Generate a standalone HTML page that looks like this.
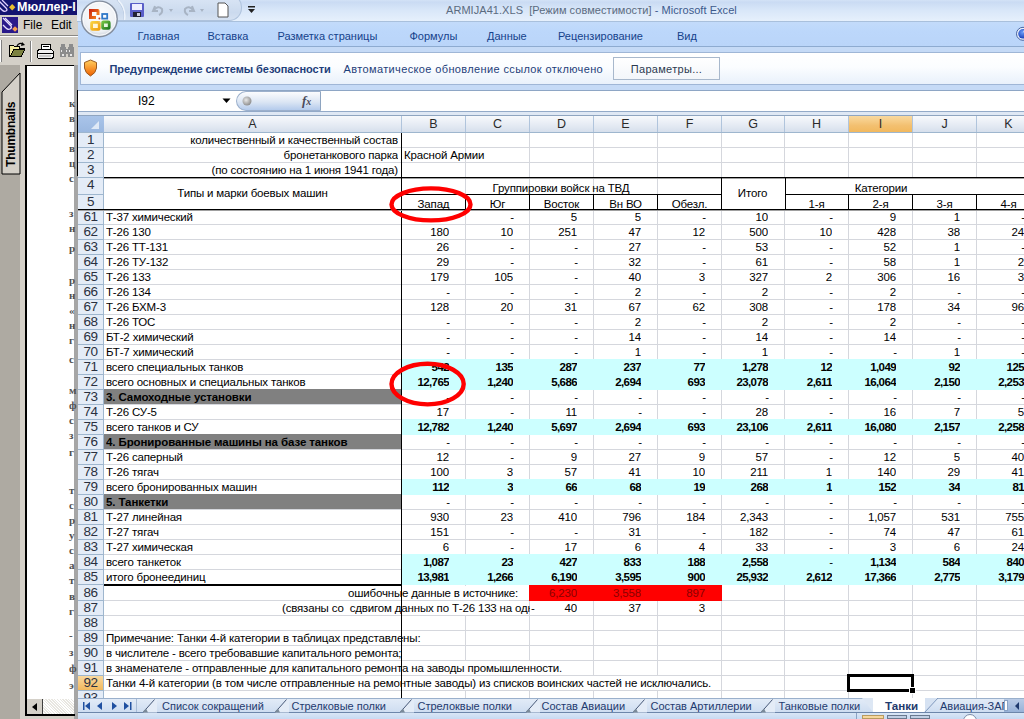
<!DOCTYPE html><html><head><meta charset="utf-8"><style>

*{margin:0;padding:0;box-sizing:border-box}
html,body{width:1024px;height:719px;overflow:hidden;background:#fff;font-family:"Liberation Sans",sans-serif}
.a{position:absolute}
.t{position:absolute;white-space:pre;overflow:hidden;font-size:11.5px;line-height:15px;letter-spacing:-0.17px;color:#000}
.t.b{letter-spacing:-0.1px}
.t.bn{font-weight:bold;letter-spacing:-0.6px}
.r{text-align:right}
.c{text-align:center}
.b{font-weight:bold}
.ui{position:absolute;white-space:pre;font-size:11px;line-height:13px}

</style></head><body>
<div class="a" style="left:0;top:0;width:78px;height:719px;background:#d4d0c8;overflow:hidden">
<div class="a" style="left:0;top:0;width:78px;height:15px;background:#141470"></div>
<div class="a" style="left:17px;top:0;font:bold 12.5px/15px 'Liberation Sans',sans-serif;color:#fff;white-space:pre;letter-spacing:0px">Мюллер-I</div>
<svg class="a" style="left:0;top:0" width="16" height="15"><path d="M-1 1 L6 8 Q8 10 6 11 Q4 12 2 10 L-1 7" stroke="#e0d0ff" stroke-width="1.3" fill="none"/><path d="M2 0 L8 6" stroke="#e0d0ff" stroke-width="1.3"/><rect x="10" y="5" width="4.5" height="4.5" transform="rotate(45 12.2 7.2)" fill="#e8c030"/></svg>
<div class="a" style="left:2px;top:17px;width:16px;height:16px;background:#2a1a8a"></div>
<svg class="a" style="left:2px;top:17px" width="16" height="16"><path d="M1 1 L9 9 Q10 11 8 12 Q6 13 4 11 L1 8" stroke="#e8e0ff" stroke-width="1.3" fill="none"/><path d="M3 1 L10 8" stroke="#e8e0ff" stroke-width="1.3"/><rect x="11" y="10" width="4" height="4" transform="rotate(45 13 12)" fill="#f8a050"/></svg>
<div class="ui" style="left:23px;top:18px;font-size:12px;line-height:15px;color:#000">File</div>
<div class="ui" style="left:51px;top:18px;font-size:12px;line-height:15px;color:#000">Edit</div>
<div class="a" style="left:0;top:35px;width:78px;height:1px;background:#8a8884"></div>
<div class="a" style="left:0;top:36px;width:78px;height:1px;background:#fff"></div>
<div class="a" style="left:0;top:40px;width:2px;height:22px;background:#fff;border-right:1px solid #808080"></div>
<svg class="a" style="left:0;top:30px" width="78" height="36" shape-rendering="crispEdges"><path d="M9.5 15.5 L13.5 15.5 L14.5 16.5 L19.5 16.5 L19.5 18.5 L24.5 18.5 L21.5 26.5 L9.5 26.5 Z" fill="#f4eca0" stroke="#000"/><path d="M10.5 26.5 L13.5 19.5 L24.5 19.5 L21.5 26.5 Z" fill="#7c8240" stroke="#000"/><path d="M17 16 Q19 12 23 14" stroke="#000" stroke-width="1.2" fill="none" shape-rendering="auto"/><path d="M22 12 L25 15 L21 16 Z" fill="#000" shape-rendering="auto"/><rect x="30" y="11" width="1" height="21" fill="#808080"/><rect x="31" y="11" width="1" height="21" fill="#fff"/><path d="M41.5 14.5 L50.5 14.5 L50.5 19.5 L41.5 19.5 Z" fill="#fff" stroke="#000"/><rect x="43" y="16" width="6" height="1" fill="#000"/><path d="M38.5 19.5 L51.5 19.5 L53.5 21.5 L53.5 27.5 L51.5 28.5 L38.5 28.5 L37.5 27.5 L37.5 21.5 Z" fill="#f0f0f0" stroke="#000"/><rect x="38" y="23" width="15" height="1" fill="#000"/><rect x="39" y="25" width="12" height="2" fill="#c8c8c8"/><g fill="#8c8c8c"><rect x="61" y="14" width="4" height="3"/><rect x="69" y="14" width="4" height="3"/><rect x="60" y="17" width="6" height="10"/><rect x="68" y="17" width="6" height="10"/><rect x="65" y="19" width="4" height="5"/></g><g fill="#e8e8e8"><rect x="61" y="20" width="1" height="2"/><rect x="69" y="20" width="1" height="2"/><rect x="62" y="24" width="2" height="2"/><rect x="70" y="24" width="2" height="2"/><rect x="66" y="20" width="1" height="2"/></g></svg>
<div class="a" style="left:0;top:65px;width:20px;height:654px;background:#aeaaa2"></div>
<svg class="a" style="left:0;top:65px" width="22" height="112"><path d="M2 27 L20 8 L20 109 L2 109 Z" fill="#d4d0c8" stroke="#000" stroke-width="1"/></svg>
<div class="a" style="left:3px;top:93px;width:16px;height:74px;overflow:hidden"><div style="position:absolute;left:0;top:74px;transform-origin:0 0;transform:rotate(-90deg);font:bold 12px/16px 'Liberation Sans',sans-serif;color:#000;white-space:pre;letter-spacing:-0.2px">Thumbnails</div></div>
<div class="a" style="left:25px;top:65px;width:2px;height:650px;background:#000"></div>
<div class="a" style="left:27px;top:66px;width:47px;height:633px;background:#fff"></div>
<div class="a" style="left:27px;top:65px;width:47px;height:1px;background:#000"></div>
<div class="a" style="left:74px;top:65px;width:4px;height:654px;background:#a6a6a6"></div>
<div class="a" style="left:69px;top:96px;font:bold 11px/14px 'Liberation Serif',serif;color:#505050;white-space:pre">к</div>
<div class="a" style="left:69px;top:111px;font:bold 11px/14px 'Liberation Serif',serif;color:#505050;white-space:pre">в</div>
<div class="a" style="left:69px;top:126px;font:bold 11px/14px 'Liberation Serif',serif;color:#505050;white-space:pre">н</div>
<div class="a" style="left:69px;top:141px;font:bold 11px/14px 'Liberation Serif',serif;color:#505050;white-space:pre">в</div>
<div class="a" style="left:69px;top:156px;font:bold 11px/14px 'Liberation Serif',serif;color:#505050;white-space:pre">ц</div>
<div class="a" style="left:69px;top:171px;font:bold 11px/14px 'Liberation Serif',serif;color:#505050;white-space:pre">с</div>
<div class="a" style="left:69px;top:206px;font:bold 11px/14px 'Liberation Serif',serif;color:#505050;white-space:pre">з</div>
<div class="a" style="left:69px;top:221px;font:bold 11px/14px 'Liberation Serif',serif;color:#505050;white-space:pre">н</div>
<div class="a" style="left:69px;top:241px;font:bold 11px/14px 'Liberation Serif',serif;color:#505050;white-space:pre">р</div>
<div class="a" style="left:69px;top:273px;font:bold 11px/14px 'Liberation Serif',serif;color:#505050;white-space:pre">р</div>
<div class="a" style="left:69px;top:288px;font:bold 11px/14px 'Liberation Serif',serif;color:#505050;white-space:pre">н</div>
<div class="a" style="left:69px;top:303px;font:bold 11px/14px 'Liberation Serif',serif;color:#505050;white-space:pre">«</div>
<div class="a" style="left:69px;top:318px;font:bold 11px/14px 'Liberation Serif',serif;color:#505050;white-space:pre">н</div>
<div class="a" style="left:69px;top:333px;font:bold 11px/14px 'Liberation Serif',serif;color:#505050;white-space:pre">г</div>
<div class="a" style="left:69px;top:352px;font:bold 11px/14px 'Liberation Serif',serif;color:#505050;white-space:pre">с</div>
<div class="a" style="left:69px;top:383px;font:bold 11px/14px 'Liberation Serif',serif;color:#505050;white-space:pre">м</div>
<div class="a" style="left:69px;top:398px;font:bold 11px/14px 'Liberation Serif',serif;color:#505050;white-space:pre">ф</div>
<div class="a" style="left:69px;top:413px;font:bold 11px/14px 'Liberation Serif',serif;color:#505050;white-space:pre">с</div>
<div class="a" style="left:69px;top:428px;font:bold 11px/14px 'Liberation Serif',serif;color:#505050;white-space:pre">з</div>
<div class="a" style="left:69px;top:445px;font:bold 11px/14px 'Liberation Serif',serif;color:#505050;white-space:pre">г</div>
<div class="a" style="left:69px;top:483px;font:bold 11px/14px 'Liberation Serif',serif;color:#505050;white-space:pre">т</div>
<div class="a" style="left:69px;top:498px;font:bold 11px/14px 'Liberation Serif',serif;color:#505050;white-space:pre">с</div>
<div class="a" style="left:69px;top:513px;font:bold 11px/14px 'Liberation Serif',serif;color:#505050;white-space:pre">р</div>
<div class="a" style="left:69px;top:528px;font:bold 11px/14px 'Liberation Serif',serif;color:#505050;white-space:pre">у</div>
<div class="a" style="left:69px;top:543px;font:bold 11px/14px 'Liberation Serif',serif;color:#505050;white-space:pre">с</div>
<div class="a" style="left:69px;top:558px;font:bold 11px/14px 'Liberation Serif',serif;color:#505050;white-space:pre">а</div>
<div class="a" style="left:69px;top:573px;font:bold 11px/14px 'Liberation Serif',serif;color:#505050;white-space:pre">т</div>
<div class="a" style="left:69px;top:589px;font:bold 11px/14px 'Liberation Serif',serif;color:#505050;white-space:pre">в</div>
<div class="a" style="left:69px;top:604px;font:bold 11px/14px 'Liberation Serif',serif;color:#505050;white-space:pre">г</div>
<div class="a" style="left:69px;top:628px;font:bold 11px/14px 'Liberation Serif',serif;color:#505050;white-space:pre">-</div>
<div class="a" style="left:69px;top:645px;font:bold 11px/14px 'Liberation Serif',serif;color:#505050;white-space:pre">з</div>
<div class="a" style="left:69px;top:661px;font:bold 11px/14px 'Liberation Serif',serif;color:#505050;white-space:pre">ф</div>
<div class="a" style="left:69px;top:678px;font:bold 11px/14px 'Liberation Serif',serif;color:#505050;white-space:pre">э</div>
<div class="a" style="left:27px;top:699px;width:47px;height:16px;background:repeating-linear-gradient(45deg,#e8e6e0 0 1px,#fff 1px 2px)"></div>
<div class="a" style="left:27px;top:699px;width:16px;height:16px;background:#d4d0c8;border-right:1px solid #404040;border-bottom:1px solid #404040"></div>
<svg class="a" style="left:30px;top:702px" width="10" height="10"><path d="M7 1 L2 5 L7 9 Z" fill="#000"/></svg>
<div class="a" style="left:25px;top:714px;width:50px;height:2px;background:#000"></div>
</div>
<div class="a" style="left:77px;top:0;width:947px;height:21px;background:linear-gradient(#d3e2f6,#cadbf3 10%,#d9e7f9 50%,#e6f0fc)"></div>
<div class="a" style="left:77px;top:21px;width:947px;height:1px;background:#a9c0dc"></div>
<div class="a" style="left:96px;top:-6px;width:146px;height:27px;border-radius:0 13px 13px 0;background:linear-gradient(#dce7f6,#cbdaee 70%,#d6e2f2);border:1px solid #aec2dc;border-left:none"></div>
<svg class="a" style="left:129px;top:2px" width="16" height="16"><rect x="1" y="1" width="14" height="14" rx="1" fill="#5a5fc8"/><rect x="3" y="2" width="10" height="6" fill="#eef"/><rect x="4" y="10" width="8" height="5" fill="#223"/><rect x="8" y="11" width="3" height="3" fill="#ccd"/></svg>
<svg class="a" style="left:150px;top:3px" width="30" height="14"><path d="M5 3 L3 8 L8 8 M4 7 Q8 2 12 6 Q13 10 9 12" stroke="#a8b4c4" stroke-width="2" fill="none"/><path d="M19 6 L23 6 L21 9 Z" fill="#a8b4c4"/></svg>
<svg class="a" style="left:181px;top:3px" width="30" height="14"><path d="M11 3 L13 8 L8 8 M12 7 Q8 2 4 6 Q3 10 7 12" stroke="#a8b4c4" stroke-width="2" fill="none"/><path d="M19 6 L23 6 L21 9 Z" fill="#a8b4c4"/></svg>
<svg class="a" style="left:216px;top:2px" width="14" height="16"><path d="M2 1 L9 1 L12 4 L12 15 L2 15 Z" fill="#fff" stroke="#555" stroke-width="1"/></svg>
<svg class="a" style="left:247px;top:5px" width="10" height="10"><rect x="1" y="1" width="7" height="1.5" fill="#222"/><path d="M1 4 L8 4 L4.5 8 Z" fill="#222"/></svg>
<div class="ui" style="left:446px;top:4px;font-size:11px;letter-spacing:0.05px;color:#5b6b80">ARMIJA41.XLS  [Режим совместимости] <span style="color:#3d5a8c">- Microsoft Excel</span></div>
<div class="a" style="left:78px;top:22px;width:947px;height:24px;background:linear-gradient(#c3dbfa,#bcd7fb 40%,#bad5f9)"></div>
<div class="a" style="left:78px;top:46px;width:947px;height:1px;background:#8eabd0"></div>
<div class="ui" style="left:137.5px;top:29px;width:47px;font-size:11px;line-height:14px;color:#15428b">Главная</div>
<div class="ui" style="left:207.5px;top:29px;width:46px;font-size:11px;line-height:14px;color:#15428b">Вставка</div>
<div class="ui" style="left:277.5px;top:29px;width:108.5px;font-size:11px;line-height:14px;color:#15428b">Разметка страницы</div>
<div class="ui" style="left:409.5px;top:29px;width:54.5px;font-size:11px;line-height:14px;color:#15428b">Формулы</div>
<div class="ui" style="left:487px;top:29px;width:48px;font-size:11px;line-height:14px;color:#15428b">Данные</div>
<div class="ui" style="left:558px;top:29px;width:96px;font-size:11px;line-height:14px;color:#15428b">Рецензирование</div>
<div class="ui" style="left:677px;top:29px;width:26px;font-size:11px;line-height:14px;color:#15428b">Вид</div>
<svg class="a" style="left:1010px;top:26px" width="14" height="16"><defs><radialGradient id="hb" cx="45%" cy="35%" r="65%"><stop offset="0" stop-color="#6a9cf8"/><stop offset="1" stop-color="#1a3fb8"/></radialGradient></defs><circle cx="13" cy="7.8" r="6.5" fill="#eaf2fc" stroke="#4a64a0" stroke-width="1"/><circle cx="13" cy="7.8" r="4.8" fill="url(#hb)"/><circle cx="14.5" cy="5.5" r="1.2" fill="#e0ecff"/></svg>
<div class="a" style="left:78px;top:47px;width:947px;height:43px;background:#c5daf6"></div>
<svg class="a" style="left:77px;top:0" width="60" height="24"><path d="M40 0 A24 24 0 0 1 47 21" stroke="#b0c2da" stroke-width="1" fill="none"/><path d="M41 0 A23 23 0 0 1 47.5 20" stroke="#eef4fc" stroke-width="1.5" fill="none"/></svg>
<svg class="a" style="left:79px;top:0" width="42" height="40">
<defs><radialGradient id="ob" cx="50%" cy="40%" r="60%"><stop offset="0" stop-color="#ffffff"/><stop offset="0.75" stop-color="#eef1f5"/><stop offset="1" stop-color="#c9d0da"/></radialGradient>
<linearGradient id="lr" x1="0" y1="0" x2="1" y2="1"><stop offset="0" stop-color="#c81a10"/><stop offset="1" stop-color="#f7901e"/></linearGradient>
<linearGradient id="ly" x1="0" y1="0" x2="1" y2="1"><stop offset="0" stop-color="#f8d040"/><stop offset="1" stop-color="#f0a010"/></linearGradient>
<linearGradient id="lg" x1="0" y1="0" x2="1" y2="1"><stop offset="0" stop-color="#70c040"/><stop offset="1" stop-color="#207a20"/></linearGradient></defs>
<circle cx="20.4" cy="18.9" r="17.8" fill="url(#ob)" stroke="#848e9e" stroke-width="1.4"/>
<circle cx="20.4" cy="18.9" r="16.4" fill="none" stroke="#ffffff" stroke-width="1" opacity="0.8"/>
<path d="M10 9 H19 V12 H13 V16 H17 V19 H10 Z" fill="url(#lr)"/>
<path d="M19 9 Q20.5 9 20.5 11 V15 H17.5 V12 H19 Z" fill="#f07a20"/>
<rect x="23.2" y="14" width="5" height="4.6" fill="none" stroke="#2f78c8" stroke-width="1.8"/>
<rect x="12.6" y="22.3" width="7.6" height="7" rx="0.8" fill="#fff6d8" stroke="url(#ly)" stroke-width="2.8"/>
<rect x="23.6" y="22" width="6.6" height="6.4" rx="0.8" fill="#e8f6e0" stroke="url(#lg)" stroke-width="2.8"/>
<circle cx="20.4" cy="18.4" r="1" fill="#c04020"/><circle cx="20.3" cy="22" r="0.9" fill="#f0c060"/>
</svg>
<div class="a" style="left:80px;top:52px;width:948px;height:33px;background:linear-gradient(#ffffff,#fbfdff 45%,#e9f1fb);border:1px solid #9fb6d6"></div>
<svg class="a" style="left:83px;top:59px" width="15" height="18"><defs><linearGradient id="sh" x1="0" y1="0" x2="0" y2="1"><stop offset="0" stop-color="#ffd060"/><stop offset="1" stop-color="#f06000"/></linearGradient></defs><path d="M7.5 1 L13.5 3.5 L13.5 9 Q13 14 7.5 17 Q2 14 1.5 9 L1.5 3.5 Z" fill="url(#sh)" stroke="#9a5a20" stroke-width="1"/></svg>
<div class="ui b" style="left:109.5px;top:63px;font-size:11px;letter-spacing:-0.05px;color:#1e3e7a">Предупреждение системы безопасности</div>
<div class="ui" style="left:343.5px;top:63px;font-size:11px;letter-spacing:0.37px;color:#1e3e7a">Автоматическое обновление ссылок отключено</div>
<div class="a" style="left:613px;top:57px;width:107px;height:23px;background:linear-gradient(#ffffff,#f3f6fa);border:1px solid #a8b8cc"></div>
<div class="ui" style="left:613px;top:63px;width:107px;text-align:center;font-size:11px;letter-spacing:0.3px;color:#2c3a50">Параметры...</div>
<div class="a" style="left:77px;top:90px;width:947px;height:1px;background:#8ea6c5"></div>
<div class="a" style="left:78px;top:91px;width:947px;height:20px;background:#fff"></div>
<div class="a" style="left:77px;top:111px;width:947px;height:1px;background:#93aac8"></div>
<div class="a" style="left:78px;top:112px;width:947px;height:3px;background:#dfe8f4"></div>
<div class="a" style="left:77px;top:115px;width:947px;height:1px;background:#8fa5c0"></div>
<div class="ui" style="left:138px;top:94px;font-size:12px;line-height:15px;color:#000">I92</div>
<svg class="a" style="left:222px;top:97px" width="10" height="8"><path d="M0.5 1.5 L8.5 1.5 L4.5 6 Z" fill="#000"/></svg>
<div class="a" style="left:236px;top:91px;width:85px;height:20px;border-radius:10px 0 0 10px;background:linear-gradient(#fbfcfe,#dce6f4 55%,#b4cbec);border:1px solid #9cb0cc;border-right:1px solid #8ea4c0"></div>
<svg class="a" style="left:240px;top:94px" width="14" height="14"><defs><radialGradient id="db" cx="40%" cy="40%" r="60%"><stop offset="0" stop-color="#e8e8e8"/><stop offset="1" stop-color="#909090"/></radialGradient></defs><circle cx="7" cy="7" r="4.5" fill="url(#db)"/></svg>
<div class="a" style="left:302px;top:92px;font:italic bold 13px/17px 'Liberation Serif',serif;color:#4a4a5a;white-space:pre">f<span style="font-size:10px">x</span></div>
<div class="a" style="left:78px;top:116px;width:946px;height:582px;background:#fff"></div>
<div class="a" style="left:104px;top:147px;width:920px;height:1px;background:#d5d7dd"></div>
<div class="a" style="left:104px;top:162px;width:920px;height:1px;background:#d5d7dd"></div>
<div class="a" style="left:104px;top:177px;width:920px;height:1px;background:#d5d7dd"></div>
<div class="a" style="left:104px;top:194px;width:920px;height:1px;background:#d5d7dd"></div>
<div class="a" style="left:104px;top:209px;width:920px;height:1px;background:#d5d7dd"></div>
<div class="a" style="left:104px;top:224px;width:920px;height:1px;background:#d5d7dd"></div>
<div class="a" style="left:104px;top:239px;width:920px;height:1px;background:#d5d7dd"></div>
<div class="a" style="left:104px;top:254px;width:920px;height:1px;background:#d5d7dd"></div>
<div class="a" style="left:104px;top:269px;width:920px;height:1px;background:#d5d7dd"></div>
<div class="a" style="left:104px;top:284px;width:920px;height:1px;background:#d5d7dd"></div>
<div class="a" style="left:104px;top:299px;width:920px;height:1px;background:#d5d7dd"></div>
<div class="a" style="left:104px;top:314px;width:920px;height:1px;background:#d5d7dd"></div>
<div class="a" style="left:104px;top:329px;width:920px;height:1px;background:#d5d7dd"></div>
<div class="a" style="left:104px;top:344px;width:920px;height:1px;background:#d5d7dd"></div>
<div class="a" style="left:104px;top:359px;width:920px;height:1px;background:#d5d7dd"></div>
<div class="a" style="left:104px;top:374px;width:920px;height:1px;background:#d5d7dd"></div>
<div class="a" style="left:104px;top:389px;width:920px;height:1px;background:#d5d7dd"></div>
<div class="a" style="left:104px;top:404px;width:920px;height:1px;background:#d5d7dd"></div>
<div class="a" style="left:104px;top:419px;width:920px;height:1px;background:#d5d7dd"></div>
<div class="a" style="left:104px;top:434px;width:920px;height:1px;background:#d5d7dd"></div>
<div class="a" style="left:104px;top:449px;width:920px;height:1px;background:#d5d7dd"></div>
<div class="a" style="left:104px;top:464px;width:920px;height:1px;background:#d5d7dd"></div>
<div class="a" style="left:104px;top:479px;width:920px;height:1px;background:#d5d7dd"></div>
<div class="a" style="left:104px;top:494px;width:920px;height:1px;background:#d5d7dd"></div>
<div class="a" style="left:104px;top:509px;width:920px;height:1px;background:#d5d7dd"></div>
<div class="a" style="left:104px;top:524px;width:920px;height:1px;background:#d5d7dd"></div>
<div class="a" style="left:104px;top:539px;width:920px;height:1px;background:#d5d7dd"></div>
<div class="a" style="left:104px;top:554px;width:920px;height:1px;background:#d5d7dd"></div>
<div class="a" style="left:104px;top:569px;width:920px;height:1px;background:#d5d7dd"></div>
<div class="a" style="left:104px;top:584px;width:920px;height:1px;background:#d5d7dd"></div>
<div class="a" style="left:104px;top:600px;width:920px;height:1px;background:#d5d7dd"></div>
<div class="a" style="left:104px;top:615px;width:920px;height:1px;background:#d5d7dd"></div>
<div class="a" style="left:104px;top:630px;width:920px;height:1px;background:#d5d7dd"></div>
<div class="a" style="left:104px;top:645px;width:920px;height:1px;background:#d5d7dd"></div>
<div class="a" style="left:104px;top:660px;width:920px;height:1px;background:#d5d7dd"></div>
<div class="a" style="left:104px;top:675px;width:920px;height:1px;background:#d5d7dd"></div>
<div class="a" style="left:104px;top:690px;width:920px;height:1px;background:#d5d7dd"></div>
<div class="a" style="left:104px;top:705px;width:920px;height:1px;background:#d5d7dd"></div>
<div class="a" style="left:465px;top:133px;width:1px;height:565px;background:#d5d7dd"></div>
<div class="a" style="left:529px;top:133px;width:1px;height:565px;background:#d5d7dd"></div>
<div class="a" style="left:593px;top:133px;width:1px;height:565px;background:#d5d7dd"></div>
<div class="a" style="left:657px;top:133px;width:1px;height:565px;background:#d5d7dd"></div>
<div class="a" style="left:721px;top:133px;width:1px;height:565px;background:#d5d7dd"></div>
<div class="a" style="left:784px;top:133px;width:1px;height:565px;background:#d5d7dd"></div>
<div class="a" style="left:848px;top:133px;width:1px;height:565px;background:#d5d7dd"></div>
<div class="a" style="left:912px;top:133px;width:1px;height:565px;background:#d5d7dd"></div>
<div class="a" style="left:976px;top:133px;width:1px;height:565px;background:#d5d7dd"></div>
<div class="a" style="left:1040px;top:133px;width:1px;height:565px;background:#d5d7dd"></div>
<div class="a" style="left:401px;top:133px;width:1px;height:565px;background:#d5d7dd"></div>
<div class="a" style="left:104px;top:631px;width:360px;height:14px;background:#fff"></div>
<div class="a" style="left:104px;top:646px;width:360px;height:14px;background:#fff"></div>
<div class="a" style="left:104px;top:661px;width:488px;height:14px;background:#fff"></div>
<div class="a" style="left:104px;top:676px;width:616px;height:14px;background:#fff"></div>
<div class="a" style="left:104px;top:586px;width:424px;height:14px;background:#fff"></div>
<div class="a" style="left:104px;top:601px;width:424px;height:14px;background:#fff"></div>
<div class="a" style="left:104px;top:178px;width:297px;height:16px;background:#fff"></div>
<div class="a" style="left:104px;top:195px;width:297px;height:14px;background:#fff"></div>
<div class="a" style="left:104px;top:178px;width:297px;height:31px;background:#fff"></div>
<div class="a" style="left:722px;top:178px;width:63px;height:31px;background:#fff"></div>
<div class="a" style="left:786px;top:178px;width:238px;height:16px;background:#fff"></div>
<div class="a" style="left:401px;top:359px;width:640px;height:31px;background:#ccffff"></div>
<div class="a" style="left:401px;top:419px;width:640px;height:16px;background:#ccffff"></div>
<div class="a" style="left:401px;top:479px;width:640px;height:16px;background:#ccffff"></div>
<div class="a" style="left:401px;top:554px;width:640px;height:31px;background:#ccffff"></div>
<div class="a" style="left:104px;top:389px;width:297px;height:15px;background:#808080"></div>
<div class="a" style="left:104px;top:434px;width:297px;height:15px;background:#808080"></div>
<div class="a" style="left:104px;top:494px;width:297px;height:15px;background:#808080"></div>
<div class="a" style="left:529px;top:585px;width:193px;height:16px;background:#ff0000"></div>
<div class="a" style="left:104px;top:177px;width:920px;height:1px;background:#000"></div>
<div class="a" style="left:104px;top:178px;width:920px;height:1px;background:#a0a0a0"></div>
<div class="a" style="left:401px;top:194px;width:320px;height:1px;background:#000"></div>
<div class="a" style="left:785px;top:194px;width:239px;height:1px;background:#000"></div>
<div class="a" style="left:78px;top:209px;width:946px;height:1px;background:#000"></div>
<div class="a" style="left:78px;top:210px;width:946px;height:1px;background:#a0a0a0"></div>
<div class="a" style="left:401px;top:133px;width:1px;height:565px;background:#000"></div>
<div class="a" style="left:465px;top:195px;width:1px;height:14px;background:#000"></div>
<div class="a" style="left:529px;top:195px;width:1px;height:14px;background:#000"></div>
<div class="a" style="left:593px;top:195px;width:1px;height:14px;background:#000"></div>
<div class="a" style="left:657px;top:195px;width:1px;height:14px;background:#000"></div>
<div class="a" style="left:721px;top:195px;width:1px;height:14px;background:#000"></div>
<div class="a" style="left:848px;top:195px;width:1px;height:14px;background:#000"></div>
<div class="a" style="left:912px;top:195px;width:1px;height:14px;background:#000"></div>
<div class="a" style="left:976px;top:195px;width:1px;height:14px;background:#000"></div>
<div class="a" style="left:1040px;top:195px;width:1px;height:14px;background:#000"></div>
<div class="a" style="left:721px;top:178px;width:1px;height:31px;background:#000"></div>
<div class="a" style="left:785px;top:178px;width:1px;height:31px;background:#000"></div>
<div class="a" style="left:104px;top:584px;width:298px;height:2px;background:#000"></div>
<div class="a" style="left:78px;top:116px;width:946px;height:16px;background:linear-gradient(#f7f9fc,#e4eaf3 60%,#d6dfec)"></div>
<div class="a" style="left:78px;top:132px;width:946px;height:1px;background:#9eb6ce"></div>
<div class="a" style="left:78px;top:116px;width:26px;height:16px;background:linear-gradient(#a9c4e9,#9bb8e0)"></div>
<svg class="a" style="left:88px;top:118px" width="14" height="13"><path d="M11 3 L11 11 L3 11 Z" fill="#dfe9f6"/></svg>
<div class="a" style="left:130px;top:714px;width:1px;height:5px;background:#9ab0cc"></div>
<div class="a" style="left:849px;top:116px;width:63px;height:16px;background:linear-gradient(#f9d99f,#f3c070 60%,#f1b85e)"></div>
<div class="a" style="left:401px;top:116px;width:1px;height:16px;background:#b0c4dc"></div>
<div class="t c" style="left:104px;top:117px;width:297px;font-size:12.5px;line-height:15px;letter-spacing:0;color:#2a2a2a">A</div>
<div class="a" style="left:465px;top:116px;width:1px;height:16px;background:#b0c4dc"></div>
<div class="t c" style="left:402px;top:117px;width:63px;font-size:12.5px;line-height:15px;letter-spacing:0;color:#2a2a2a">B</div>
<div class="a" style="left:529px;top:116px;width:1px;height:16px;background:#b0c4dc"></div>
<div class="t c" style="left:466px;top:117px;width:63px;font-size:12.5px;line-height:15px;letter-spacing:0;color:#2a2a2a">C</div>
<div class="a" style="left:593px;top:116px;width:1px;height:16px;background:#b0c4dc"></div>
<div class="t c" style="left:530px;top:117px;width:63px;font-size:12.5px;line-height:15px;letter-spacing:0;color:#2a2a2a">D</div>
<div class="a" style="left:657px;top:116px;width:1px;height:16px;background:#b0c4dc"></div>
<div class="t c" style="left:594px;top:117px;width:63px;font-size:12.5px;line-height:15px;letter-spacing:0;color:#2a2a2a">E</div>
<div class="a" style="left:721px;top:116px;width:1px;height:16px;background:#b0c4dc"></div>
<div class="t c" style="left:658px;top:117px;width:63px;font-size:12.5px;line-height:15px;letter-spacing:0;color:#2a2a2a">F</div>
<div class="a" style="left:784px;top:116px;width:1px;height:16px;background:#b0c4dc"></div>
<div class="t c" style="left:722px;top:117px;width:62px;font-size:12.5px;line-height:15px;letter-spacing:0;color:#2a2a2a">G</div>
<div class="a" style="left:848px;top:116px;width:1px;height:16px;background:#b0c4dc"></div>
<div class="t c" style="left:785px;top:117px;width:63px;font-size:12.5px;line-height:15px;letter-spacing:0;color:#2a2a2a">H</div>
<div class="a" style="left:912px;top:116px;width:1px;height:16px;background:#b0c4dc"></div>
<div class="t c" style="left:849px;top:117px;width:63px;font-size:12.5px;line-height:15px;letter-spacing:0;color:#2a2a2a">I</div>
<div class="a" style="left:976px;top:116px;width:1px;height:16px;background:#b0c4dc"></div>
<div class="t c" style="left:913px;top:117px;width:63px;font-size:12.5px;line-height:15px;letter-spacing:0;color:#2a2a2a">J</div>
<div class="a" style="left:1040px;top:116px;width:1px;height:16px;background:#b0c4dc"></div>
<div class="t c" style="left:977px;top:117px;width:63px;font-size:12.5px;line-height:15px;letter-spacing:0;color:#2a2a2a">K</div>
<div class="a" style="left:78px;top:133px;width:25px;height:565px;background:#e4ecf7"></div>
<div class="a" style="left:103px;top:133px;width:1px;height:565px;background:#9eb6ce"></div>
<div class="a" style="left:78px;top:676px;width:25px;height:14px;background:linear-gradient(#f9d99f,#f1b85e)"></div>
<div class="a" style="left:78px;top:147px;width:25px;height:1px;background:#9eb6ce"></div>
<div class="t c" style="left:78px;top:132px;width:25px;height:15px;font-size:13.5px;letter-spacing:-0.5px;color:#2a3040">1</div>
<div class="a" style="left:78px;top:162px;width:25px;height:1px;background:#9eb6ce"></div>
<div class="t c" style="left:78px;top:147px;width:25px;height:15px;font-size:13.5px;letter-spacing:-0.5px;color:#2a3040">2</div>
<div class="a" style="left:78px;top:177px;width:25px;height:1px;background:#9eb6ce"></div>
<div class="t c" style="left:78px;top:162px;width:25px;height:15px;font-size:13.5px;letter-spacing:-0.5px;color:#2a3040">3</div>
<div class="a" style="left:78px;top:194px;width:25px;height:1px;background:#9eb6ce"></div>
<div class="t c" style="left:78px;top:177px;width:25px;height:17px;font-size:13.5px;letter-spacing:-0.5px;color:#2a3040">4</div>
<div class="a" style="left:78px;top:209px;width:25px;height:1px;background:#9eb6ce"></div>
<div class="t c" style="left:78px;top:194px;width:25px;height:15px;font-size:13.5px;letter-spacing:-0.5px;color:#2a3040">5</div>
<div class="a" style="left:78px;top:224px;width:25px;height:1px;background:#9eb6ce"></div>
<div class="t c" style="left:78px;top:209px;width:25px;height:15px;font-size:13.5px;letter-spacing:-0.5px;color:#2a3040">61</div>
<div class="a" style="left:78px;top:239px;width:25px;height:1px;background:#9eb6ce"></div>
<div class="t c" style="left:78px;top:224px;width:25px;height:15px;font-size:13.5px;letter-spacing:-0.5px;color:#2a3040">62</div>
<div class="a" style="left:78px;top:254px;width:25px;height:1px;background:#9eb6ce"></div>
<div class="t c" style="left:78px;top:239px;width:25px;height:15px;font-size:13.5px;letter-spacing:-0.5px;color:#2a3040">63</div>
<div class="a" style="left:78px;top:269px;width:25px;height:1px;background:#9eb6ce"></div>
<div class="t c" style="left:78px;top:254px;width:25px;height:15px;font-size:13.5px;letter-spacing:-0.5px;color:#2a3040">64</div>
<div class="a" style="left:78px;top:284px;width:25px;height:1px;background:#9eb6ce"></div>
<div class="t c" style="left:78px;top:269px;width:25px;height:15px;font-size:13.5px;letter-spacing:-0.5px;color:#2a3040">65</div>
<div class="a" style="left:78px;top:299px;width:25px;height:1px;background:#9eb6ce"></div>
<div class="t c" style="left:78px;top:284px;width:25px;height:15px;font-size:13.5px;letter-spacing:-0.5px;color:#2a3040">66</div>
<div class="a" style="left:78px;top:314px;width:25px;height:1px;background:#9eb6ce"></div>
<div class="t c" style="left:78px;top:299px;width:25px;height:15px;font-size:13.5px;letter-spacing:-0.5px;color:#2a3040">67</div>
<div class="a" style="left:78px;top:329px;width:25px;height:1px;background:#9eb6ce"></div>
<div class="t c" style="left:78px;top:314px;width:25px;height:15px;font-size:13.5px;letter-spacing:-0.5px;color:#2a3040">68</div>
<div class="a" style="left:78px;top:344px;width:25px;height:1px;background:#9eb6ce"></div>
<div class="t c" style="left:78px;top:329px;width:25px;height:15px;font-size:13.5px;letter-spacing:-0.5px;color:#2a3040">69</div>
<div class="a" style="left:78px;top:359px;width:25px;height:1px;background:#9eb6ce"></div>
<div class="t c" style="left:78px;top:344px;width:25px;height:15px;font-size:13.5px;letter-spacing:-0.5px;color:#2a3040">70</div>
<div class="a" style="left:78px;top:374px;width:25px;height:1px;background:#9eb6ce"></div>
<div class="t c" style="left:78px;top:359px;width:25px;height:15px;font-size:13.5px;letter-spacing:-0.5px;color:#2a3040">71</div>
<div class="a" style="left:78px;top:389px;width:25px;height:1px;background:#9eb6ce"></div>
<div class="t c" style="left:78px;top:374px;width:25px;height:15px;font-size:13.5px;letter-spacing:-0.5px;color:#2a3040">72</div>
<div class="a" style="left:78px;top:404px;width:25px;height:1px;background:#9eb6ce"></div>
<div class="t c" style="left:78px;top:389px;width:25px;height:15px;font-size:13.5px;letter-spacing:-0.5px;color:#2a3040">73</div>
<div class="a" style="left:78px;top:419px;width:25px;height:1px;background:#9eb6ce"></div>
<div class="t c" style="left:78px;top:404px;width:25px;height:15px;font-size:13.5px;letter-spacing:-0.5px;color:#2a3040">74</div>
<div class="a" style="left:78px;top:434px;width:25px;height:1px;background:#9eb6ce"></div>
<div class="t c" style="left:78px;top:419px;width:25px;height:15px;font-size:13.5px;letter-spacing:-0.5px;color:#2a3040">75</div>
<div class="a" style="left:78px;top:449px;width:25px;height:1px;background:#9eb6ce"></div>
<div class="t c" style="left:78px;top:434px;width:25px;height:15px;font-size:13.5px;letter-spacing:-0.5px;color:#2a3040">76</div>
<div class="a" style="left:78px;top:464px;width:25px;height:1px;background:#9eb6ce"></div>
<div class="t c" style="left:78px;top:449px;width:25px;height:15px;font-size:13.5px;letter-spacing:-0.5px;color:#2a3040">77</div>
<div class="a" style="left:78px;top:479px;width:25px;height:1px;background:#9eb6ce"></div>
<div class="t c" style="left:78px;top:464px;width:25px;height:15px;font-size:13.5px;letter-spacing:-0.5px;color:#2a3040">78</div>
<div class="a" style="left:78px;top:494px;width:25px;height:1px;background:#9eb6ce"></div>
<div class="t c" style="left:78px;top:479px;width:25px;height:15px;font-size:13.5px;letter-spacing:-0.5px;color:#2a3040">79</div>
<div class="a" style="left:78px;top:509px;width:25px;height:1px;background:#9eb6ce"></div>
<div class="t c" style="left:78px;top:494px;width:25px;height:15px;font-size:13.5px;letter-spacing:-0.5px;color:#2a3040">80</div>
<div class="a" style="left:78px;top:524px;width:25px;height:1px;background:#9eb6ce"></div>
<div class="t c" style="left:78px;top:509px;width:25px;height:15px;font-size:13.5px;letter-spacing:-0.5px;color:#2a3040">81</div>
<div class="a" style="left:78px;top:539px;width:25px;height:1px;background:#9eb6ce"></div>
<div class="t c" style="left:78px;top:524px;width:25px;height:15px;font-size:13.5px;letter-spacing:-0.5px;color:#2a3040">82</div>
<div class="a" style="left:78px;top:554px;width:25px;height:1px;background:#9eb6ce"></div>
<div class="t c" style="left:78px;top:539px;width:25px;height:15px;font-size:13.5px;letter-spacing:-0.5px;color:#2a3040">83</div>
<div class="a" style="left:78px;top:569px;width:25px;height:1px;background:#9eb6ce"></div>
<div class="t c" style="left:78px;top:554px;width:25px;height:15px;font-size:13.5px;letter-spacing:-0.5px;color:#2a3040">84</div>
<div class="a" style="left:78px;top:584px;width:25px;height:1px;background:#9eb6ce"></div>
<div class="t c" style="left:78px;top:569px;width:25px;height:15px;font-size:13.5px;letter-spacing:-0.5px;color:#2a3040">85</div>
<div class="a" style="left:78px;top:600px;width:25px;height:1px;background:#9eb6ce"></div>
<div class="t c" style="left:78px;top:585px;width:25px;height:15px;font-size:13.5px;letter-spacing:-0.5px;color:#2a3040">86</div>
<div class="a" style="left:78px;top:615px;width:25px;height:1px;background:#9eb6ce"></div>
<div class="t c" style="left:78px;top:600px;width:25px;height:15px;font-size:13.5px;letter-spacing:-0.5px;color:#2a3040">87</div>
<div class="a" style="left:78px;top:630px;width:25px;height:1px;background:#9eb6ce"></div>
<div class="t c" style="left:78px;top:615px;width:25px;height:15px;font-size:13.5px;letter-spacing:-0.5px;color:#2a3040">88</div>
<div class="a" style="left:78px;top:645px;width:25px;height:1px;background:#9eb6ce"></div>
<div class="t c" style="left:78px;top:630px;width:25px;height:15px;font-size:13.5px;letter-spacing:-0.5px;color:#2a3040">89</div>
<div class="a" style="left:78px;top:660px;width:25px;height:1px;background:#9eb6ce"></div>
<div class="t c" style="left:78px;top:645px;width:25px;height:15px;font-size:13.5px;letter-spacing:-0.5px;color:#2a3040">90</div>
<div class="a" style="left:78px;top:675px;width:25px;height:1px;background:#9eb6ce"></div>
<div class="t c" style="left:78px;top:660px;width:25px;height:15px;font-size:13.5px;letter-spacing:-0.5px;color:#2a3040">91</div>
<div class="a" style="left:78px;top:690px;width:25px;height:1px;background:#9eb6ce"></div>
<div class="t c" style="left:78px;top:675px;width:25px;height:15px;font-size:13.5px;letter-spacing:-0.5px;color:#2a3040">92</div>
<div class="a" style="left:78px;top:705px;width:25px;height:1px;background:#9eb6ce"></div>
<div class="t c" style="left:78px;top:690px;width:25px;height:15px;font-size:13.5px;letter-spacing:-0.5px;color:#2a3040">93</div>
<div class="a" style="left:78px;top:209px;width:946px;height:1px;background:#000"></div>
<div class="a" style="left:78px;top:210px;width:946px;height:1px;background:#a0a0a0"></div>
<div class="a" style="left:77px;top:90px;width:1px;height:86px;background:#000"></div>
<div class="t r" style="left:104px;top:133px;width:294px;height:14px;">количественный и качественный состав</div>
<div class="t r" style="left:104px;top:148px;width:294px;height:14px;">бронетанкового парка</div>
<div class="t " style="left:404px;top:148px;width:200px;height:14px;">Красной Армии</div>
<div class="t r" style="left:104px;top:163px;width:294px;height:14px;">(по состоянию на 1 июня 1941 года)</div>
<div class="t c" style="left:104px;top:186px;width:297px;height:15px">Типы и марки боевых машин</div>
<div class="t c" style="left:401px;top:181px;width:320px;height:15px">Группировки войск на ТВД</div>
<div class="t c" style="left:721px;top:186px;width:63px;height:15px">Итого</div>
<div class="t c" style="left:785px;top:181px;width:192px;height:15px">Категории</div>
<div class="t c" style="left:402px;top:197px;width:63px;height:12px">Запад</div>
<div class="t c" style="left:466px;top:197px;width:63px;height:12px">Юг</div>
<div class="t c" style="left:530px;top:197px;width:63px;height:12px">Восток</div>
<div class="t c" style="left:594px;top:197px;width:63px;height:12px">Вн ВО</div>
<div class="t c" style="left:658px;top:197px;width:63px;height:12px">Обезл.</div>
<div class="t c" style="left:785px;top:197px;width:63px;height:12px">1-я</div>
<div class="t c" style="left:849px;top:197px;width:63px;height:12px">2-я</div>
<div class="t c" style="left:913px;top:197px;width:63px;height:12px">3-я</div>
<div class="t c" style="left:977px;top:197px;width:63px;height:12px">4-я</div>
<div class="t " style="left:106px;top:210px;width:295px;height:14px;">Т-37 химический</div>
<div class="t r " style="left:466px;top:210px;width:48px;height:14px;">-</div>
<div class="t r " style="left:530px;top:210px;width:47px;height:14px;">5</div>
<div class="t r " style="left:594px;top:210px;width:47px;height:14px;">5</div>
<div class="t r " style="left:658px;top:210px;width:48px;height:14px;">-</div>
<div class="t r " style="left:722px;top:210px;width:46px;height:14px;">10</div>
<div class="t r " style="left:785px;top:210px;width:48px;height:14px;">-</div>
<div class="t r " style="left:849px;top:210px;width:47px;height:14px;">9</div>
<div class="t r " style="left:913px;top:210px;width:47px;height:14px;">1</div>
<div class="t r " style="left:977px;top:210px;width:48px;height:14px;">-</div>
<div class="t " style="left:106px;top:225px;width:295px;height:14px;">Т-26 130</div>
<div class="t r " style="left:402px;top:225px;width:47px;height:14px;">180</div>
<div class="t r " style="left:466px;top:225px;width:47px;height:14px;">10</div>
<div class="t r " style="left:530px;top:225px;width:47px;height:14px;">251</div>
<div class="t r " style="left:594px;top:225px;width:47px;height:14px;">47</div>
<div class="t r " style="left:658px;top:225px;width:47px;height:14px;">12</div>
<div class="t r " style="left:722px;top:225px;width:46px;height:14px;">500</div>
<div class="t r " style="left:785px;top:225px;width:47px;height:14px;">10</div>
<div class="t r " style="left:849px;top:225px;width:47px;height:14px;">428</div>
<div class="t r " style="left:913px;top:225px;width:47px;height:14px;">38</div>
<div class="t r " style="left:977px;top:225px;width:47px;height:14px;">24</div>
<div class="t " style="left:106px;top:240px;width:295px;height:14px;">Т-26 ТТ-131</div>
<div class="t r " style="left:402px;top:240px;width:47px;height:14px;">26</div>
<div class="t r " style="left:466px;top:240px;width:48px;height:14px;">-</div>
<div class="t r " style="left:530px;top:240px;width:48px;height:14px;">-</div>
<div class="t r " style="left:594px;top:240px;width:47px;height:14px;">27</div>
<div class="t r " style="left:658px;top:240px;width:48px;height:14px;">-</div>
<div class="t r " style="left:722px;top:240px;width:46px;height:14px;">53</div>
<div class="t r " style="left:785px;top:240px;width:48px;height:14px;">-</div>
<div class="t r " style="left:849px;top:240px;width:47px;height:14px;">52</div>
<div class="t r " style="left:913px;top:240px;width:47px;height:14px;">1</div>
<div class="t r " style="left:977px;top:240px;width:48px;height:14px;">-</div>
<div class="t " style="left:106px;top:255px;width:295px;height:14px;">Т-26 ТУ-132</div>
<div class="t r " style="left:402px;top:255px;width:47px;height:14px;">29</div>
<div class="t r " style="left:466px;top:255px;width:48px;height:14px;">-</div>
<div class="t r " style="left:530px;top:255px;width:48px;height:14px;">-</div>
<div class="t r " style="left:594px;top:255px;width:47px;height:14px;">32</div>
<div class="t r " style="left:658px;top:255px;width:48px;height:14px;">-</div>
<div class="t r " style="left:722px;top:255px;width:46px;height:14px;">61</div>
<div class="t r " style="left:785px;top:255px;width:48px;height:14px;">-</div>
<div class="t r " style="left:849px;top:255px;width:47px;height:14px;">58</div>
<div class="t r " style="left:913px;top:255px;width:47px;height:14px;">1</div>
<div class="t r " style="left:977px;top:255px;width:47px;height:14px;">2</div>
<div class="t " style="left:106px;top:270px;width:295px;height:14px;">Т-26 133</div>
<div class="t r " style="left:402px;top:270px;width:47px;height:14px;">179</div>
<div class="t r " style="left:466px;top:270px;width:47px;height:14px;">105</div>
<div class="t r " style="left:530px;top:270px;width:48px;height:14px;">-</div>
<div class="t r " style="left:594px;top:270px;width:47px;height:14px;">40</div>
<div class="t r " style="left:658px;top:270px;width:47px;height:14px;">3</div>
<div class="t r " style="left:722px;top:270px;width:46px;height:14px;">327</div>
<div class="t r " style="left:785px;top:270px;width:47px;height:14px;">2</div>
<div class="t r " style="left:849px;top:270px;width:47px;height:14px;">306</div>
<div class="t r " style="left:913px;top:270px;width:47px;height:14px;">16</div>
<div class="t r " style="left:977px;top:270px;width:47px;height:14px;">3</div>
<div class="t " style="left:106px;top:285px;width:295px;height:14px;">Т-26 134</div>
<div class="t r " style="left:402px;top:285px;width:48px;height:14px;">-</div>
<div class="t r " style="left:466px;top:285px;width:48px;height:14px;">-</div>
<div class="t r " style="left:530px;top:285px;width:48px;height:14px;">-</div>
<div class="t r " style="left:594px;top:285px;width:47px;height:14px;">2</div>
<div class="t r " style="left:658px;top:285px;width:48px;height:14px;">-</div>
<div class="t r " style="left:722px;top:285px;width:46px;height:14px;">2</div>
<div class="t r " style="left:785px;top:285px;width:48px;height:14px;">-</div>
<div class="t r " style="left:849px;top:285px;width:47px;height:14px;">2</div>
<div class="t r " style="left:913px;top:285px;width:48px;height:14px;">-</div>
<div class="t r " style="left:977px;top:285px;width:48px;height:14px;">-</div>
<div class="t " style="left:106px;top:300px;width:295px;height:14px;">Т-26 БХМ-3</div>
<div class="t r " style="left:402px;top:300px;width:47px;height:14px;">128</div>
<div class="t r " style="left:466px;top:300px;width:47px;height:14px;">20</div>
<div class="t r " style="left:530px;top:300px;width:47px;height:14px;">31</div>
<div class="t r " style="left:594px;top:300px;width:47px;height:14px;">67</div>
<div class="t r " style="left:658px;top:300px;width:47px;height:14px;">62</div>
<div class="t r " style="left:722px;top:300px;width:46px;height:14px;">308</div>
<div class="t r " style="left:785px;top:300px;width:48px;height:14px;">-</div>
<div class="t r " style="left:849px;top:300px;width:47px;height:14px;">178</div>
<div class="t r " style="left:913px;top:300px;width:47px;height:14px;">34</div>
<div class="t r " style="left:977px;top:300px;width:47px;height:14px;">96</div>
<div class="t " style="left:106px;top:315px;width:295px;height:14px;">Т-26 ТОС</div>
<div class="t r " style="left:402px;top:315px;width:48px;height:14px;">-</div>
<div class="t r " style="left:466px;top:315px;width:48px;height:14px;">-</div>
<div class="t r " style="left:530px;top:315px;width:48px;height:14px;">-</div>
<div class="t r " style="left:594px;top:315px;width:47px;height:14px;">2</div>
<div class="t r " style="left:658px;top:315px;width:48px;height:14px;">-</div>
<div class="t r " style="left:722px;top:315px;width:46px;height:14px;">2</div>
<div class="t r " style="left:785px;top:315px;width:48px;height:14px;">-</div>
<div class="t r " style="left:849px;top:315px;width:47px;height:14px;">2</div>
<div class="t r " style="left:913px;top:315px;width:48px;height:14px;">-</div>
<div class="t r " style="left:977px;top:315px;width:48px;height:14px;">-</div>
<div class="t " style="left:106px;top:330px;width:295px;height:14px;">БТ-2 химический</div>
<div class="t r " style="left:402px;top:330px;width:48px;height:14px;">-</div>
<div class="t r " style="left:466px;top:330px;width:48px;height:14px;">-</div>
<div class="t r " style="left:530px;top:330px;width:48px;height:14px;">-</div>
<div class="t r " style="left:594px;top:330px;width:47px;height:14px;">14</div>
<div class="t r " style="left:658px;top:330px;width:48px;height:14px;">-</div>
<div class="t r " style="left:722px;top:330px;width:46px;height:14px;">14</div>
<div class="t r " style="left:785px;top:330px;width:48px;height:14px;">-</div>
<div class="t r " style="left:849px;top:330px;width:47px;height:14px;">14</div>
<div class="t r " style="left:913px;top:330px;width:48px;height:14px;">-</div>
<div class="t r " style="left:977px;top:330px;width:48px;height:14px;">-</div>
<div class="t " style="left:106px;top:345px;width:295px;height:14px;">БТ-7 химический</div>
<div class="t r " style="left:402px;top:345px;width:48px;height:14px;">-</div>
<div class="t r " style="left:466px;top:345px;width:48px;height:14px;">-</div>
<div class="t r " style="left:530px;top:345px;width:48px;height:14px;">-</div>
<div class="t r " style="left:594px;top:345px;width:47px;height:14px;">1</div>
<div class="t r " style="left:658px;top:345px;width:48px;height:14px;">-</div>
<div class="t r " style="left:722px;top:345px;width:46px;height:14px;">1</div>
<div class="t r " style="left:785px;top:345px;width:48px;height:14px;">-</div>
<div class="t r " style="left:849px;top:345px;width:48px;height:14px;">-</div>
<div class="t r " style="left:913px;top:345px;width:47px;height:14px;">1</div>
<div class="t r " style="left:977px;top:345px;width:48px;height:14px;">-</div>
<div class="t " style="left:106px;top:360px;width:295px;height:14px;">всего специальных танков</div>
<div class="t r bn" style="left:402px;top:360px;width:47px;height:14px;">542</div>
<div class="t r bn" style="left:466px;top:360px;width:47px;height:14px;">135</div>
<div class="t r bn" style="left:530px;top:360px;width:47px;height:14px;">287</div>
<div class="t r bn" style="left:594px;top:360px;width:47px;height:14px;">237</div>
<div class="t r bn" style="left:658px;top:360px;width:47px;height:14px;">77</div>
<div class="t r bn" style="left:722px;top:360px;width:46px;height:14px;">1,278</div>
<div class="t r bn" style="left:785px;top:360px;width:47px;height:14px;">12</div>
<div class="t r bn" style="left:849px;top:360px;width:47px;height:14px;">1,049</div>
<div class="t r bn" style="left:913px;top:360px;width:47px;height:14px;">92</div>
<div class="t r bn" style="left:977px;top:360px;width:47px;height:14px;">125</div>
<div class="t " style="left:106px;top:375px;width:295px;height:14px;">всего основных и специальных танков</div>
<div class="t r bn" style="left:402px;top:375px;width:47px;height:14px;">12,765</div>
<div class="t r bn" style="left:466px;top:375px;width:47px;height:14px;">1,240</div>
<div class="t r bn" style="left:530px;top:375px;width:47px;height:14px;">5,686</div>
<div class="t r bn" style="left:594px;top:375px;width:47px;height:14px;">2,694</div>
<div class="t r bn" style="left:658px;top:375px;width:47px;height:14px;">693</div>
<div class="t r bn" style="left:722px;top:375px;width:46px;height:14px;">23,078</div>
<div class="t r bn" style="left:785px;top:375px;width:47px;height:14px;">2,611</div>
<div class="t r bn" style="left:849px;top:375px;width:47px;height:14px;">16,064</div>
<div class="t r bn" style="left:913px;top:375px;width:47px;height:14px;">2,150</div>
<div class="t r bn" style="left:977px;top:375px;width:47px;height:14px;">2,253</div>
<div class="t b" style="left:106px;top:390px;width:295px;height:14px;">3. Самоходные установки</div>
<div class="t r " style="left:402px;top:390px;width:48px;height:14px;">-</div>
<div class="t r " style="left:466px;top:390px;width:48px;height:14px;">-</div>
<div class="t r " style="left:530px;top:390px;width:48px;height:14px;">-</div>
<div class="t r " style="left:594px;top:390px;width:48px;height:14px;">-</div>
<div class="t r " style="left:658px;top:390px;width:48px;height:14px;">-</div>
<div class="t r " style="left:722px;top:390px;width:47px;height:14px;">-</div>
<div class="t r " style="left:785px;top:390px;width:48px;height:14px;">-</div>
<div class="t r " style="left:849px;top:390px;width:48px;height:14px;">-</div>
<div class="t r " style="left:913px;top:390px;width:48px;height:14px;">-</div>
<div class="t r " style="left:977px;top:390px;width:48px;height:14px;">-</div>
<div class="t " style="left:106px;top:405px;width:295px;height:14px;">Т-26 СУ-5</div>
<div class="t r " style="left:402px;top:405px;width:47px;height:14px;">17</div>
<div class="t r " style="left:466px;top:405px;width:48px;height:14px;">-</div>
<div class="t r " style="left:530px;top:405px;width:47px;height:14px;">11</div>
<div class="t r " style="left:594px;top:405px;width:48px;height:14px;">-</div>
<div class="t r " style="left:658px;top:405px;width:48px;height:14px;">-</div>
<div class="t r " style="left:722px;top:405px;width:46px;height:14px;">28</div>
<div class="t r " style="left:785px;top:405px;width:48px;height:14px;">-</div>
<div class="t r " style="left:849px;top:405px;width:47px;height:14px;">16</div>
<div class="t r " style="left:913px;top:405px;width:47px;height:14px;">7</div>
<div class="t r " style="left:977px;top:405px;width:47px;height:14px;">5</div>
<div class="t " style="left:106px;top:420px;width:295px;height:14px;">всего танков и СУ</div>
<div class="t r bn" style="left:402px;top:420px;width:47px;height:14px;">12,782</div>
<div class="t r bn" style="left:466px;top:420px;width:47px;height:14px;">1,240</div>
<div class="t r bn" style="left:530px;top:420px;width:47px;height:14px;">5,697</div>
<div class="t r bn" style="left:594px;top:420px;width:47px;height:14px;">2,694</div>
<div class="t r bn" style="left:658px;top:420px;width:47px;height:14px;">693</div>
<div class="t r bn" style="left:722px;top:420px;width:46px;height:14px;">23,106</div>
<div class="t r bn" style="left:785px;top:420px;width:47px;height:14px;">2,611</div>
<div class="t r bn" style="left:849px;top:420px;width:47px;height:14px;">16,080</div>
<div class="t r bn" style="left:913px;top:420px;width:47px;height:14px;">2,157</div>
<div class="t r bn" style="left:977px;top:420px;width:47px;height:14px;">2,258</div>
<div class="t b" style="left:106px;top:435px;width:295px;height:14px;">4. Бронированные машины на базе танков</div>
<div class="t r " style="left:402px;top:435px;width:48px;height:14px;">-</div>
<div class="t r " style="left:466px;top:435px;width:48px;height:14px;">-</div>
<div class="t r " style="left:530px;top:435px;width:48px;height:14px;">-</div>
<div class="t r " style="left:594px;top:435px;width:48px;height:14px;">-</div>
<div class="t r " style="left:658px;top:435px;width:48px;height:14px;">-</div>
<div class="t r " style="left:722px;top:435px;width:47px;height:14px;">-</div>
<div class="t r " style="left:785px;top:435px;width:48px;height:14px;">-</div>
<div class="t r " style="left:849px;top:435px;width:48px;height:14px;">-</div>
<div class="t r " style="left:913px;top:435px;width:48px;height:14px;">-</div>
<div class="t r " style="left:977px;top:435px;width:48px;height:14px;">-</div>
<div class="t " style="left:106px;top:450px;width:295px;height:14px;">Т-26 саперный</div>
<div class="t r " style="left:402px;top:450px;width:47px;height:14px;">12</div>
<div class="t r " style="left:466px;top:450px;width:48px;height:14px;">-</div>
<div class="t r " style="left:530px;top:450px;width:47px;height:14px;">9</div>
<div class="t r " style="left:594px;top:450px;width:47px;height:14px;">27</div>
<div class="t r " style="left:658px;top:450px;width:47px;height:14px;">9</div>
<div class="t r " style="left:722px;top:450px;width:46px;height:14px;">57</div>
<div class="t r " style="left:785px;top:450px;width:48px;height:14px;">-</div>
<div class="t r " style="left:849px;top:450px;width:47px;height:14px;">12</div>
<div class="t r " style="left:913px;top:450px;width:47px;height:14px;">5</div>
<div class="t r " style="left:977px;top:450px;width:47px;height:14px;">40</div>
<div class="t " style="left:106px;top:465px;width:295px;height:14px;">Т-26 тягач</div>
<div class="t r " style="left:402px;top:465px;width:47px;height:14px;">100</div>
<div class="t r " style="left:466px;top:465px;width:47px;height:14px;">3</div>
<div class="t r " style="left:530px;top:465px;width:47px;height:14px;">57</div>
<div class="t r " style="left:594px;top:465px;width:47px;height:14px;">41</div>
<div class="t r " style="left:658px;top:465px;width:47px;height:14px;">10</div>
<div class="t r " style="left:722px;top:465px;width:46px;height:14px;">211</div>
<div class="t r " style="left:785px;top:465px;width:47px;height:14px;">1</div>
<div class="t r " style="left:849px;top:465px;width:47px;height:14px;">140</div>
<div class="t r " style="left:913px;top:465px;width:47px;height:14px;">29</div>
<div class="t r " style="left:977px;top:465px;width:47px;height:14px;">41</div>
<div class="t " style="left:106px;top:480px;width:295px;height:14px;">всего бронированных машин</div>
<div class="t r bn" style="left:402px;top:480px;width:47px;height:14px;">112</div>
<div class="t r bn" style="left:466px;top:480px;width:47px;height:14px;">3</div>
<div class="t r bn" style="left:530px;top:480px;width:47px;height:14px;">66</div>
<div class="t r bn" style="left:594px;top:480px;width:47px;height:14px;">68</div>
<div class="t r bn" style="left:658px;top:480px;width:47px;height:14px;">19</div>
<div class="t r bn" style="left:722px;top:480px;width:46px;height:14px;">268</div>
<div class="t r bn" style="left:785px;top:480px;width:47px;height:14px;">1</div>
<div class="t r bn" style="left:849px;top:480px;width:47px;height:14px;">152</div>
<div class="t r bn" style="left:913px;top:480px;width:47px;height:14px;">34</div>
<div class="t r bn" style="left:977px;top:480px;width:47px;height:14px;">81</div>
<div class="t b" style="left:106px;top:495px;width:295px;height:14px;">5. Танкетки</div>
<div class="t r " style="left:402px;top:495px;width:48px;height:14px;">-</div>
<div class="t r " style="left:466px;top:495px;width:48px;height:14px;">-</div>
<div class="t r " style="left:530px;top:495px;width:48px;height:14px;">-</div>
<div class="t r " style="left:594px;top:495px;width:48px;height:14px;">-</div>
<div class="t r " style="left:658px;top:495px;width:48px;height:14px;">-</div>
<div class="t r " style="left:722px;top:495px;width:47px;height:14px;">-</div>
<div class="t r " style="left:785px;top:495px;width:48px;height:14px;">-</div>
<div class="t r " style="left:849px;top:495px;width:48px;height:14px;">-</div>
<div class="t r " style="left:913px;top:495px;width:48px;height:14px;">-</div>
<div class="t r " style="left:977px;top:495px;width:48px;height:14px;">-</div>
<div class="t " style="left:106px;top:510px;width:295px;height:14px;">Т-27 линейная</div>
<div class="t r " style="left:402px;top:510px;width:47px;height:14px;">930</div>
<div class="t r " style="left:466px;top:510px;width:47px;height:14px;">23</div>
<div class="t r " style="left:530px;top:510px;width:47px;height:14px;">410</div>
<div class="t r " style="left:594px;top:510px;width:47px;height:14px;">796</div>
<div class="t r " style="left:658px;top:510px;width:47px;height:14px;">184</div>
<div class="t r " style="left:722px;top:510px;width:46px;height:14px;">2,343</div>
<div class="t r " style="left:785px;top:510px;width:48px;height:14px;">-</div>
<div class="t r " style="left:849px;top:510px;width:47px;height:14px;">1,057</div>
<div class="t r " style="left:913px;top:510px;width:47px;height:14px;">531</div>
<div class="t r " style="left:977px;top:510px;width:47px;height:14px;">755</div>
<div class="t " style="left:106px;top:525px;width:295px;height:14px;">Т-27 тягач</div>
<div class="t r " style="left:402px;top:525px;width:47px;height:14px;">151</div>
<div class="t r " style="left:466px;top:525px;width:48px;height:14px;">-</div>
<div class="t r " style="left:530px;top:525px;width:48px;height:14px;">-</div>
<div class="t r " style="left:594px;top:525px;width:47px;height:14px;">31</div>
<div class="t r " style="left:658px;top:525px;width:48px;height:14px;">-</div>
<div class="t r " style="left:722px;top:525px;width:46px;height:14px;">182</div>
<div class="t r " style="left:785px;top:525px;width:48px;height:14px;">-</div>
<div class="t r " style="left:849px;top:525px;width:47px;height:14px;">74</div>
<div class="t r " style="left:913px;top:525px;width:47px;height:14px;">47</div>
<div class="t r " style="left:977px;top:525px;width:47px;height:14px;">61</div>
<div class="t " style="left:106px;top:540px;width:295px;height:14px;">Т-27 химическая</div>
<div class="t r " style="left:402px;top:540px;width:47px;height:14px;">6</div>
<div class="t r " style="left:466px;top:540px;width:48px;height:14px;">-</div>
<div class="t r " style="left:530px;top:540px;width:47px;height:14px;">17</div>
<div class="t r " style="left:594px;top:540px;width:47px;height:14px;">6</div>
<div class="t r " style="left:658px;top:540px;width:47px;height:14px;">4</div>
<div class="t r " style="left:722px;top:540px;width:46px;height:14px;">33</div>
<div class="t r " style="left:785px;top:540px;width:48px;height:14px;">-</div>
<div class="t r " style="left:849px;top:540px;width:47px;height:14px;">3</div>
<div class="t r " style="left:913px;top:540px;width:47px;height:14px;">6</div>
<div class="t r " style="left:977px;top:540px;width:47px;height:14px;">24</div>
<div class="t " style="left:106px;top:555px;width:295px;height:14px;">всего танкеток</div>
<div class="t r bn" style="left:402px;top:555px;width:47px;height:14px;">1,087</div>
<div class="t r bn" style="left:466px;top:555px;width:47px;height:14px;">23</div>
<div class="t r bn" style="left:530px;top:555px;width:47px;height:14px;">427</div>
<div class="t r bn" style="left:594px;top:555px;width:47px;height:14px;">833</div>
<div class="t r bn" style="left:658px;top:555px;width:47px;height:14px;">188</div>
<div class="t r bn" style="left:722px;top:555px;width:46px;height:14px;">2,558</div>
<div class="t r " style="left:785px;top:555px;width:48px;height:14px;">-</div>
<div class="t r bn" style="left:849px;top:555px;width:47px;height:14px;">1,134</div>
<div class="t r bn" style="left:913px;top:555px;width:47px;height:14px;">584</div>
<div class="t r bn" style="left:977px;top:555px;width:47px;height:14px;">840</div>
<div class="t " style="left:106px;top:570px;width:295px;height:14px;">итого бронеединиц</div>
<div class="t r bn" style="left:402px;top:570px;width:47px;height:14px;">13,981</div>
<div class="t r bn" style="left:466px;top:570px;width:47px;height:14px;">1,266</div>
<div class="t r bn" style="left:530px;top:570px;width:47px;height:14px;">6,190</div>
<div class="t r bn" style="left:594px;top:570px;width:47px;height:14px;">3,595</div>
<div class="t r bn" style="left:658px;top:570px;width:47px;height:14px;">900</div>
<div class="t r bn" style="left:722px;top:570px;width:46px;height:14px;">25,932</div>
<div class="t r bn" style="left:785px;top:570px;width:47px;height:14px;">2,612</div>
<div class="t r bn" style="left:849px;top:570px;width:47px;height:14px;">17,366</div>
<div class="t r bn" style="left:913px;top:570px;width:47px;height:14px;">2,775</div>
<div class="t r bn" style="left:977px;top:570px;width:47px;height:14px;">3,179</div>
<div class="t r" style="left:104px;top:586px;width:414px;height:14px;">ошибочные данные в источнике:</div>
<div class="t r " style="left:530px;top:586px;width:47px;height:14px;color:#8a0000">6,230</div>
<div class="t r " style="left:594px;top:586px;width:47px;height:14px;color:#8a0000">3,558</div>
<div class="t r " style="left:658px;top:586px;width:47px;height:14px;color:#8a0000">897</div>
<div class="t " style="left:282px;top:601px;width:248px;height:14px;">(связаны со  сдвигом данных по Т-26 133 на одну строку)</div>
<div class="t " style="left:531px;top:601px;width:20px;height:14px;">-</div>
<div class="t r " style="left:530px;top:601px;width:47px;height:14px;">40</div>
<div class="t r " style="left:594px;top:601px;width:47px;height:14px;">37</div>
<div class="t r " style="left:658px;top:601px;width:47px;height:14px;">3</div>
<div class="t " style="left:106px;top:631px;width:494px;height:14px;">Примечание: Танки 4-й категории в таблицах представлены:</div>
<div class="t " style="left:106px;top:646px;width:494px;height:14px;">в числителе - всего требовавшие капитального ремонта;</div>
<div class="t " style="left:106px;top:661px;width:594px;height:14px;">в знаменателе - отправленные для капитального ремонта на заводы промышленности.</div>
<div class="t " style="left:106px;top:676px;width:794px;height:14px;">Танки 4-й категории (в том числе отправленные на ремонтные заводы) из списков воинских частей не исключались.</div>
<div class="a" style="left:401px;top:586px;width:1px;height:112px;background:#000"></div>
<div class="a" style="left:847px;top:674px;width:67px;height:18px;border:3px solid #000"></div>
<div class="a" style="left:910px;top:688px;width:5px;height:5px;background:#000;outline:1px solid #fff"></div>
<svg class="a" style="left:0;top:0" width="1024" height="719"><ellipse cx="431" cy="204.4" rx="39.5" ry="16" fill="none" stroke="#ff0000" stroke-width="4.4"/><ellipse cx="427.6" cy="384.1" rx="36.1" ry="20.3" fill="none" stroke="#ff0000" stroke-width="4.4"/></svg>
<div class="a" style="left:78px;top:698px;width:946px;height:15px;background:linear-gradient(#e3ecf8,#cddcf0)"></div>
<div class="a" style="left:78px;top:698px;width:946px;height:1px;background:#9ab0cc"></div>
<div class="a" style="left:78px;top:712px;width:946px;height:1px;background:#6d86aa"></div>
<div class="a" style="left:78px;top:713px;width:946px;height:6px;background:linear-gradient(#d9e6f6,#c8daf2)"></div>
<svg class="a" style="left:80px;top:700px" width="56" height="12"><g fill="#2050a0"><rect x="3" y="2" width="1.5" height="8"/><path d="M10 2 L5 6 L10 10 Z"/><path d="M22 2 L17 6 L22 10 Z"/><path d="M32 2 L37 6 L32 10 Z"/><path d="M44 2 L49 6 L44 10 Z"/><rect x="50" y="2" width="1.5" height="8"/></g></svg>
<div class="a" style="left:136px;top:699px;width:1px;height:13px;background:#a8bcd6"></div>
<svg class="a" style="left:143px;top:699px" width="14" height="14"><path d="M0 13.5 L12 1 L14 1 L14 13.5 Z" fill="#e4ecf7"/><path d="M0 13.5 L11.5 0.5" stroke="#4a5a78" stroke-width="1" fill="none"/><path d="M-1 13.5 L3 9.5 L5 13.5 Z" fill="#7a8a9a"/></svg>
<svg class="a" style="left:275px;top:699px" width="14" height="14"><path d="M0 13.5 L12 1 L14 1 L14 13.5 Z" fill="#e4ecf7"/><path d="M0 13.5 L11.5 0.5" stroke="#4a5a78" stroke-width="1" fill="none"/><path d="M-1 13.5 L3 9.5 L5 13.5 Z" fill="#7a8a9a"/></svg>
<svg class="a" style="left:400px;top:699px" width="14" height="14"><path d="M0 13.5 L12 1 L14 1 L14 13.5 Z" fill="#e4ecf7"/><path d="M0 13.5 L11.5 0.5" stroke="#4a5a78" stroke-width="1" fill="none"/><path d="M-1 13.5 L3 9.5 L5 13.5 Z" fill="#7a8a9a"/></svg>
<svg class="a" style="left:526px;top:699px" width="14" height="14"><path d="M0 13.5 L12 1 L14 1 L14 13.5 Z" fill="#e4ecf7"/><path d="M0 13.5 L11.5 0.5" stroke="#4a5a78" stroke-width="1" fill="none"/><path d="M-1 13.5 L3 9.5 L5 13.5 Z" fill="#7a8a9a"/></svg>
<svg class="a" style="left:633px;top:699px" width="14" height="14"><path d="M0 13.5 L12 1 L14 1 L14 13.5 Z" fill="#e4ecf7"/><path d="M0 13.5 L11.5 0.5" stroke="#4a5a78" stroke-width="1" fill="none"/><path d="M-1 13.5 L3 9.5 L5 13.5 Z" fill="#7a8a9a"/></svg>
<svg class="a" style="left:761px;top:699px" width="14" height="14"><path d="M0 13.5 L12 1 L14 1 L14 13.5 Z" fill="#e4ecf7"/><path d="M0 13.5 L11.5 0.5" stroke="#4a5a78" stroke-width="1" fill="none"/><path d="M-1 13.5 L3 9.5 L5 13.5 Z" fill="#7a8a9a"/></svg>
<div class="a" style="left:873px;top:698px;width:52px;height:14px;background:#fff"></div>
<svg class="a" style="left:862px;top:698px" width="76" height="15"><path d="M0 0 L11 0 L11 14 Z" fill="#dde7f4"/><path d="M63 0 L76 0 L62 14 L63 14 Z" fill="#d6e2f2"/><path d="M63 14 L76 0" stroke="#7f98bd" stroke-width="1"/></svg>
<div class="ui " style="left:162px;top:699px;font-size:11px;line-height:14px;color:#1f3a6e">Список сокращений</div>
<div class="ui " style="left:291.5px;top:699px;font-size:11px;line-height:14px;color:#1f3a6e">Стрелковые полки</div>
<div class="ui " style="left:417.5px;top:699px;font-size:11px;line-height:14px;color:#1f3a6e">Стрелоквые полки</div>
<div class="ui " style="left:541.5px;top:699px;font-size:11px;line-height:14px;color:#1f3a6e">Состав Авиации</div>
<div class="ui " style="left:650.5px;top:699px;font-size:11px;line-height:14px;color:#1f3a6e">Состав Артиллерии</div>
<div class="ui " style="left:778.5px;top:699px;font-size:11px;line-height:14px;color:#1f3a6e">Танковые полки</div>
<div class="ui b" style="left:885px;top:699px;font-size:11.6px;line-height:14px;color:#1f3a6e">Танки</div>
<div class="ui " style="left:940px;top:699px;font-size:11px;line-height:14px;color:#1f3a6e">Авиация-ЗАГ</div>
<div class="a" style="left:1004px;top:699px;width:20px;height:13px;background:linear-gradient(#b9cbe6,#98b2d8)"></div>
<div class="a" style="left:1004px;top:700px;width:4px;height:11px;background:#fff;border:1px solid #8aa2c4"></div>
<svg class="a" style="left:1013px;top:701px" width="8" height="10"><path d="M6 1 L2 5 L6 9 Z" fill="#1f3a6e"/></svg>
<div class="a" style="left:856px;top:713px;width:1px;height:6px;background:#8aa2c4"></div>
<div class="a" style="left:862px;top:715px;width:22px;height:4px;background:#f6d79c;border:1px solid #b89a60"></div>
<div class="a" style="left:887px;top:715px;width:20px;height:4px;background:#c0cfe4;border:1px solid #6a7a90"></div>
<div class="a" style="left:910px;top:715px;width:20px;height:4px;background:#c0cfe4;border:1px solid #6a7a90"></div>
<div class="a" style="left:963px;top:714px;width:14px;height:14px;border-radius:7px;background:#fff;border:1px solid #7a8ca8"></div>
</body></html>
